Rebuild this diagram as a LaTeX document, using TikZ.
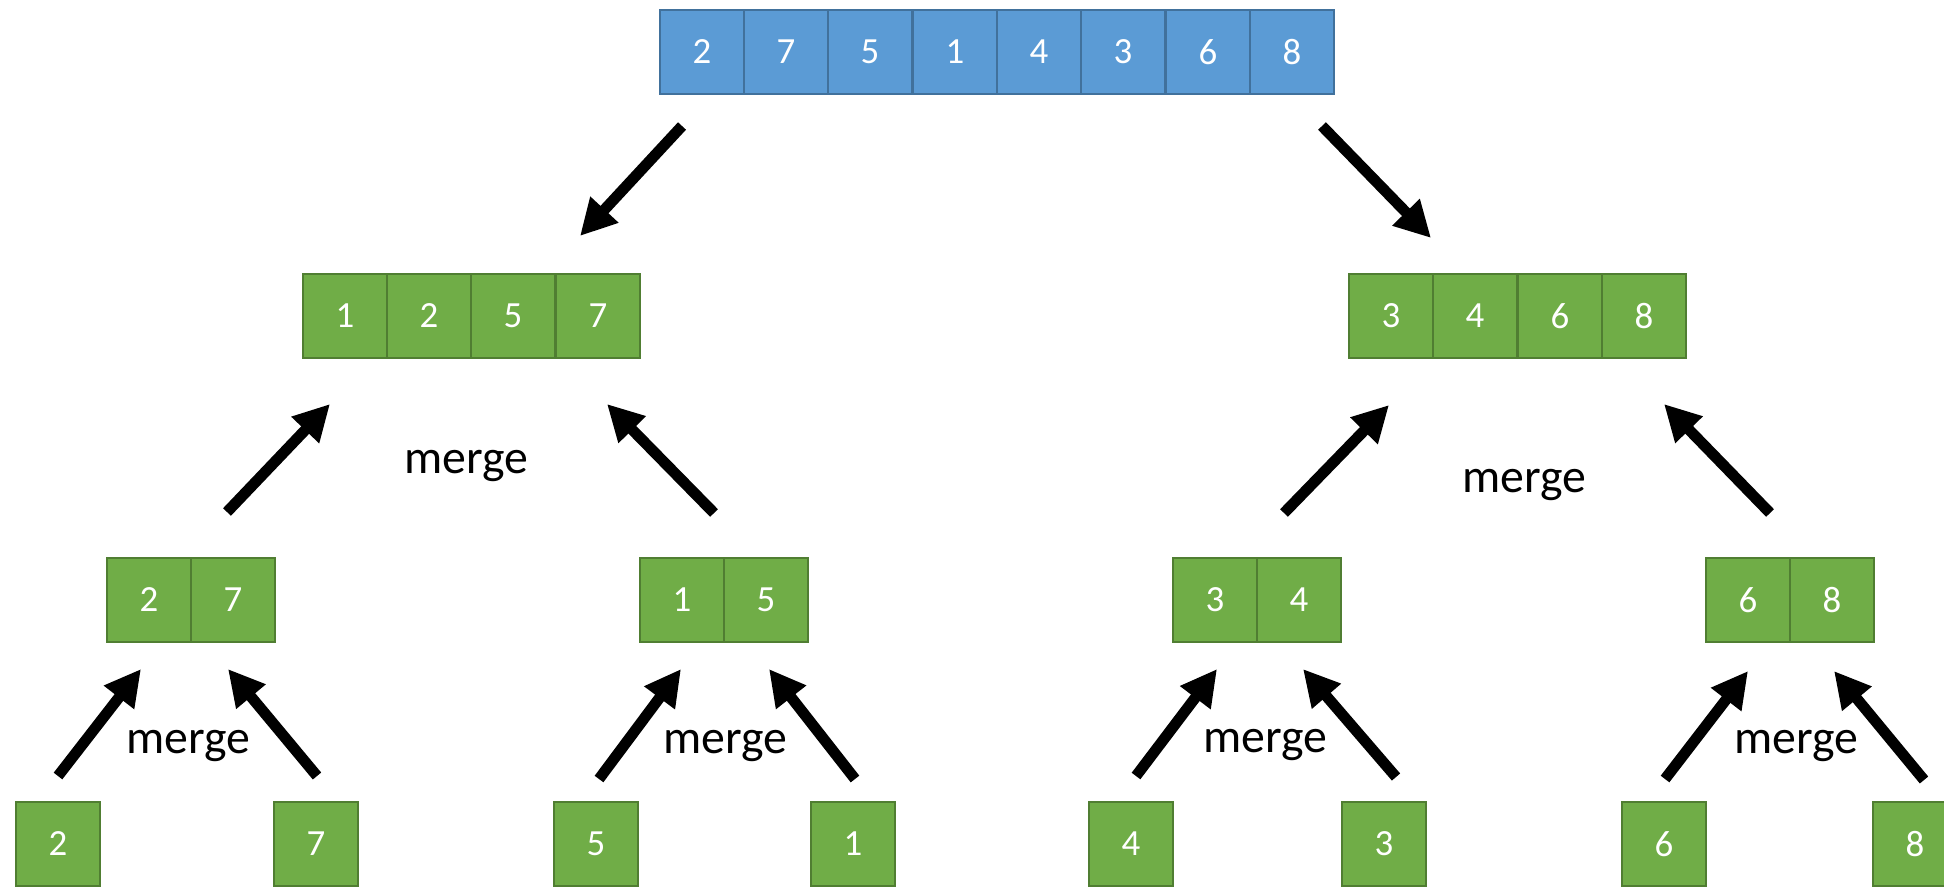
\documentclass[tikz,border=0pt]{standalone}
\usepackage{fontspec}
\setmainfont{Carlito}
\usetikzlibrary{arrows.meta}
\definecolor{cellblue}{RGB}{91,155,213}
\definecolor{cellblueline}{RGB}{65,113,156}
\definecolor{cellgreen}{RGB}{112,173,71}
\definecolor{cellgreenline}{RGB}{80,126,50}

\tikzset{
  topcell/.style={draw=cellblueline, fill=cellblue, line width=0.7pt,
    minimum width=0.843cm, minimum height=0.843cm, inner sep=0pt,
    text=white, font=\fontsize{10.5}{12}\selectfont},
  cell/.style={topcell, draw=cellgreenline, fill=cellgreen},
  bigarrow/.style={line width=3.1pt, -{Triangle[length=3.6mm,width=3.6mm]}},
  mergelabel/.style={font=\fontsize{13.6}{16}\selectfont}
}

\begin{document}
\begin{tikzpicture}
\useasboundingbox (0,0) rectangle (19.44,-8.86);

% Input array
\node[topcell] (t1) at (7.02,-0.52) {2};
\node[topcell] (t2) at (7.86,-0.52) {7};
\node[topcell] (t3) at (8.70,-0.52) {5};
\node[topcell] (t4) at (9.55,-0.52) {1};
\node[topcell] (t5) at (10.39,-0.52) {4};
\node[topcell] (t6) at (11.23,-0.52) {3};
\node[topcell] (t7) at (12.08,-0.52) {6};
\node[topcell] (t8) at (12.92,-0.52) {8};

% Sorted halves
\node[cell] (l1) at (3.45,-3.16) {1};
\node[cell] (l2) at (4.29,-3.16) {2};
\node[cell] (l3) at (5.13,-3.16) {5};
\node[cell] (l4) at (5.98,-3.16) {7};

\node[cell] (r1) at (13.91,-3.16) {3};
\node[cell] (r2) at (14.75,-3.16) {4};
\node[cell] (r3) at (15.60,-3.16) {6};
\node[cell] (r4) at (16.44,-3.16) {8};

% Sorted pairs
\node[cell] (p1) at (1.49,-6.00) {2};
\node[cell] (p2) at (2.33,-6.00) {7};
\node[cell] (p3) at (6.82,-6.00) {1};
\node[cell] (p4) at (7.66,-6.00) {5};
\node[cell] (p5) at (12.15,-6.00) {3};
\node[cell] (p6) at (12.99,-6.00) {4};
\node[cell] (p7) at (17.48,-6.00) {6};
\node[cell] (p8) at (18.32,-6.00) {8};

% Single elements
\node[cell] (s1) at (0.58,-8.44) {2};
\node[cell] (s2) at (3.16,-8.44) {7};
\node[cell] (s3) at (5.96,-8.44) {5};
\node[cell] (s4) at (8.53,-8.44) {1};
\node[cell] (s5) at (11.31,-8.44) {4};
\node[cell] (s6) at (13.84,-8.44) {3};
\node[cell] (s7) at (16.64,-8.44) {6};
\node[cell] (s8) at (19.15,-8.44) {8};

% Arrow ends
\coordinate (a1) at (6.82,-1.26);   \coordinate (b1) at (5.80,-2.36);
\coordinate (a2) at (13.22,-1.26);  \coordinate (b2) at (14.31,-2.38);
\coordinate (a3) at (2.27,-5.12);   \coordinate (b3) at (3.30,-4.04);
\coordinate (a4) at (7.14,-5.13);   \coordinate (b4) at (6.07,-4.04);
\coordinate (a5) at (12.84,-5.13);  \coordinate (b5) at (13.89,-4.05);
\coordinate (a6) at (17.70,-5.13);  \coordinate (b6) at (16.64,-4.04);
\coordinate (a7) at (0.58,-7.76);   \coordinate (b7) at (1.41,-6.69);
\coordinate (a8) at (3.17,-7.76);   \coordinate (b8) at (2.28,-6.69);
\coordinate (a9) at (5.99,-7.79);   \coordinate (b9) at (6.81,-6.69);
\coordinate (a10) at (8.55,-7.79);  \coordinate (b10) at (7.69,-6.69);
\coordinate (a11) at (11.36,-7.76); \coordinate (b11) at (12.17,-6.69);
\coordinate (a12) at (13.96,-7.77); \coordinate (b12) at (13.03,-6.69);
\coordinate (a13) at (16.65,-7.79); \coordinate (b13) at (17.48,-6.71);
\coordinate (a14) at (19.24,-7.80); \coordinate (b14) at (18.34,-6.71);

\draw[bigarrow] (a1) -- (b1);
\draw[bigarrow] (a2) -- (b2);
\draw[bigarrow] (a3) -- (b3);
\draw[bigarrow] (a4) -- (b4);
\draw[bigarrow] (a5) -- (b5);
\draw[bigarrow] (a6) -- (b6);
\draw[bigarrow] (a7) -- (b7);
\draw[bigarrow] (a8) -- (b8);
\draw[bigarrow] (a9) -- (b9);
\draw[bigarrow] (a10) -- (b10);
\draw[bigarrow] (a11) -- (b11);
\draw[bigarrow] (a12) -- (b12);
\draw[bigarrow] (a13) -- (b13);
\draw[bigarrow] (a14) -- (b14);

% Labels
\node[mergelabel] (mg1) at (4.66,-4.66) {merge};
\node[mergelabel] (mg2) at (15.24,-4.85) {merge};
\node[mergelabel] (mg3) at (1.88,-7.46) {merge};
\node[mergelabel] (mg4) at (7.25,-7.46) {merge};
\node[mergelabel] (mg5) at (12.65,-7.45) {merge};
\node[mergelabel] (mg6) at (17.96,-7.46) {merge};
\end{tikzpicture}
\end{document}
